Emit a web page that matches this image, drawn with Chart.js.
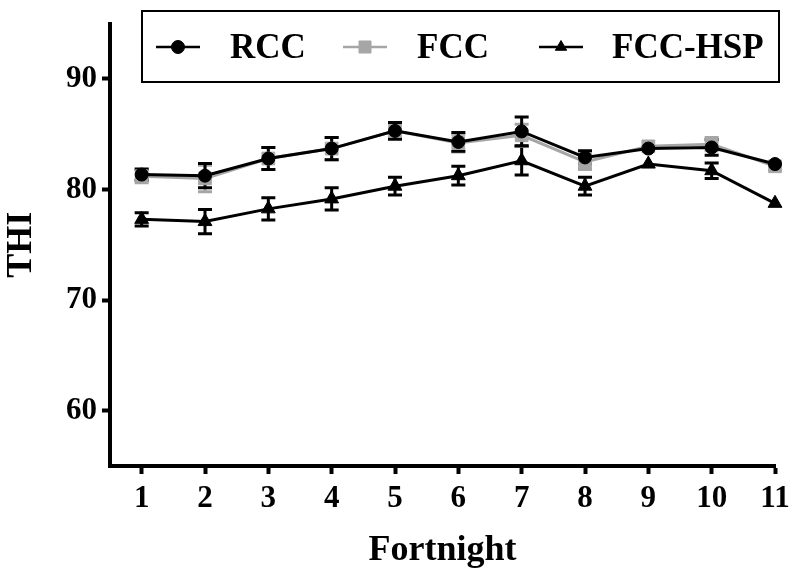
<!DOCTYPE html>
<html>
<head>
<meta charset="utf-8">
<script src="https://cdn.jsdelivr.net/npm/chart.js@4.4.1/dist/chart.umd.min.js"></script>
<style>
    html, body { margin: 0; padding: 0; background: #fff; }
    #wrap { width: 798px; height: 581px; }
</style>
</head>
<body>
<div id="wrap"><canvas id="thiChart" width="798" height="581"></canvas></div>
<script>
// Datos (THI por quincena)
const fortnights = [1, 2, 3, 4, 5, 6, 7, 8, 9, 10, 11];
const rcc = [81.35, 81.25, 82.8, 83.7, 85.3, 84.3, 85.25, 82.9, 83.7, 83.8, 82.3];
const fcc = [81.2, 81.0, 82.8, 83.7, 85.3, 84.2, 84.9, 82.5, 83.9, 84.1, 82.1];
const fccHsp = [77.3, 77.1, 78.25, 79.15, 80.3, 81.25, 82.6, 80.3, 82.3, 81.7, 78.75];
// Error estándar (0 = oculto bajo el marcador)
const rccErr = [0.5, 1.1, 1.0, 1.0, 0.75, 0.85, 1.3, 0.6, 0, 0.7, 0];
const fccErr = [0.6, 1.2, 1.0, 1.0, 0.7, 0.8, 1.0, 0.7, 0, 0.6, 0];
const fccHspErr = [0.6, 1.1, 1.0, 1.0, 0.8, 0.85, 1.3, 0.8, 0, 0.7, 0];
const yTicks = [60, 70, 80, 90];

const serif = "'Liberation Serif', 'Times New Roman', serif";
Chart.defaults.font.family = serif;
Chart.defaults.font.weight = 'bold';
Chart.defaults.color = '#000';

function toPoints(values) {
    return values.map((v, i) => ({ x: fortnights[i], y: v }));
}

// Plugin para las barras de error
const errorBars = {
    id: 'errorBars',
    beforeDatasetsDraw(chart) {
        const ctx = chart.ctx;
        const xs = chart.scales.x;
        const ys = chart.scales.y;
        for (let d = chart.data.datasets.length - 1; d >= 0; d--) {
            const ds = chart.data.datasets[d];
            ctx.save();
            ctx.strokeStyle = ds.borderColor;
            ctx.lineWidth = 3;
            ds.data.forEach((p, i) => {
                const e = ds.errors[i];
                if (!e) return;
                const px = xs.getPixelForValue(p.x);
                const top = ys.getPixelForValue(p.y + e);
                const bot = ys.getPixelForValue(p.y - e);
                ctx.beginPath();
                ctx.moveTo(px, top);
                ctx.lineTo(px, bot);
                ctx.moveTo(px - 7, top);
                ctx.lineTo(px + 7, top);
                ctx.moveTo(px - 7, bot);
                ctx.lineTo(px + 7, bot);
                ctx.stroke();
            });
            ctx.restore();
        }
    }
};

// Leyenda con recuadro, dentro del área del gráfico
const boxLegend = {
    id: 'boxLegend',
    afterDraw(chart) {
        const ctx = chart.ctx;
        const symX = [178, 365, 561];
        const textX = [230, 417, 612];
        const cy = 47;
        ctx.save();
        ctx.fillStyle = '#fff';
        ctx.fillRect(142, 11, 637, 71);
        ctx.strokeStyle = '#000';
        ctx.lineWidth = 2;
        ctx.strokeRect(142, 11, 637, 71);
        chart.data.datasets.forEach((ds, i) => {
            ctx.strokeStyle = ds.borderColor;
            ctx.fillStyle = ds.borderColor;
            ctx.lineWidth = 2.5;
            ctx.beginPath();
            ctx.moveTo(symX[i] - 22, cy);
            ctx.lineTo(symX[i] + 22, cy);
            ctx.stroke();
            ctx.lineWidth = 1;
            Chart.helpers.drawPoint(ctx, {
                pointStyle: ds.pointStyle,
                radius: ds.pointStyle === 'rect' ? 8.5 : 6.5,
                borderWidth: 1
            }, symX[i], cy);
            ctx.fillStyle = '#000';
            ctx.font = 'bold 35px ' + serif;
            ctx.textBaseline = 'middle';
            ctx.textAlign = 'left';
            ctx.fillText(ds.label, textX[i], cy + 2);
        });
        ctx.restore();
    }
};

const ctx = document.getElementById('thiChart').getContext('2d');
new Chart(ctx, {
    type: 'line',
    data: {
        datasets: [
            {
                label: 'RCC',
                data: toPoints(rcc),
                errors: rccErr,
                borderColor: '#000',
                backgroundColor: '#000',
                borderWidth: 3,
                pointStyle: 'circle',
                pointRadius: 6.5,
                pointBorderWidth: 1,
                clip: false
            },
            {
                label: 'FCC',
                data: toPoints(fcc),
                errors: fccErr,
                borderColor: '#a6a6a6',
                backgroundColor: '#a6a6a6',
                borderWidth: 3,
                pointStyle: 'rect',
                pointRadius: 9,
                pointBorderWidth: 1,
                clip: false
            },
            {
                label: 'FCC-HSP',
                data: toPoints(fccHsp),
                errors: fccHspErr,
                borderColor: '#000',
                backgroundColor: '#000',
                borderWidth: 3,
                pointStyle: 'triangle',
                pointRadius: 8,
                pointBorderWidth: 1,
                clip: false
            }
        ]
    },
    options: {
        responsive: false,
        animation: false,
        layout: { padding: { top: 23, right: 23, bottom: 0, left: 0 } },
        plugins: {
            legend: { display: false },
            tooltip: { enabled: false }
        },
        scales: {
            x: {
                type: 'linear',
                min: 0.5,
                max: 11,
                afterBuildTicks: (scale) => { scale.ticks = fortnights.map(v => ({ value: v })); },
                afterFit: (scale) => { scale.height = 115; },
                border: { display: true, width: 4, color: '#000' },
                grid: { display: true, drawOnChartArea: false, drawTicks: true, tickLength: 8, tickWidth: 4, tickColor: '#000' },
                ticks: { font: { size: 31, weight: 'bold' }, padding: 6, maxRotation: 0 },
                title: { display: true, text: 'Fortnight', font: { size: 36, weight: 'bold', lineHeight: 1 }, padding: { top: 0, bottom: 12 } }
            },
            y: {
                min: 55,
                max: 95,
                afterBuildTicks: (scale) => { scale.ticks = yTicks.map(v => ({ value: v })); },
                afterFit: (scale) => { scale.width = 110; },
                border: { display: true, width: 4, color: '#000' },
                grid: { display: true, drawOnChartArea: false, drawTicks: true, tickLength: 8, tickWidth: 4, tickColor: '#000' },
                ticks: { font: { size: 31, weight: 'bold' }, padding: 5 },
                title: { display: true, text: 'THI', font: { size: 36, weight: 'bold', lineHeight: 1 }, padding: { top: 4, bottom: 0 } }
            }
        }
    },
    plugins: [errorBars, boxLegend]
});
</script>
</body>
</html>
